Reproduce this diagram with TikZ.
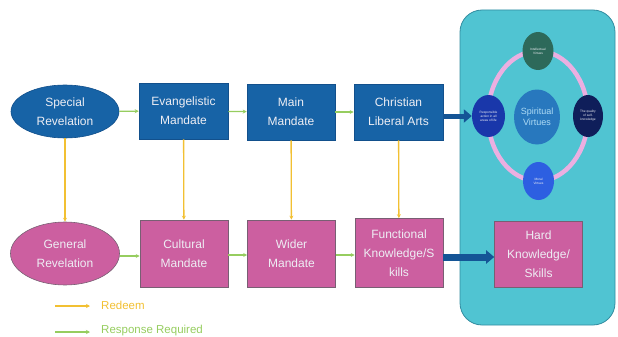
\documentclass[tikz,border=0pt]{standalone}
\usepackage{fontspec}
\setmainfont{Liberation Sans}
\usetikzlibrary{arrows.meta,shapes.geometric}
\definecolor{boxblue}{RGB}{23,99,166}
\definecolor{boxblueb}{RGB}{18,80,140}
\definecolor{boxpink}{RGB}{204,95,160}
\definecolor{boxpinkb}{RGB}{120,95,115}
\definecolor{panelc}{RGB}{80,196,210}
\definecolor{panelb}{RGB}{50,140,160}
\definecolor{ycol}{RGB}{242,192,50}
\definecolor{gcol}{RGB}{150,205,95}
\definecolor{thickb}{RGB}{20,85,150}
\definecolor{txtc}{RGB}{238,238,244}
\definecolor{ringc}{RGB}{235,175,225}
\definecolor{intelc}{RGB}{45,105,90}
\definecolor{respc}{RGB}{25,55,170}
\definecolor{qualc}{RGB}{15,30,90}
\definecolor{moralc}{RGB}{45,95,225}
\definecolor{spiritc}{RGB}{40,120,190}
\definecolor{spirittxt}{RGB}{175,220,245}
\begin{document}
\begin{tikzpicture}[x=1pt,y=-1pt,
  every node/.style={font=\fontsize{12}{19}\selectfont, text=txtc, align=center, inner sep=0pt},
  bluebox/.style={rectangle, draw=boxblueb, fill=boxblue, line width=0.6pt, minimum width=89pt, minimum height=56pt},
  pinkbox/.style={rectangle, draw=boxpinkb, fill=boxpink, line width=0.6pt, minimum width=88pt, minimum height=67pt},
  blueell/.style={ellipse, draw=boxblueb, fill=boxblue, line width=0.6pt, minimum width=108pt, minimum height=53pt},
  pinkell/.style={ellipse, draw=boxpinkb, fill=boxpink, line width=0.6pt, minimum width=109pt, minimum height=63pt},
  smallc/.style={ellipse, minimum width=32pt, minimum height=40pt, font=\fontsize{3.2}{3.9}\selectfont},
  yarrow/.style={draw=ycol, line width=1.3pt, -{Stealth[length=4pt,width=4pt]}},
  garrow/.style={draw=gcol, line width=1.3pt, -{Stealth[length=4pt,width=4pt]}},
  thickarrow/.style={draw=thickb, line width=#1, -{Triangle[length=8pt,width=13pt]}},
  legendtext/.style={anchor=west, font=\fontsize{11.5}{14}\selectfont}
]
\useasboundingbox (0,0) rectangle (618,337);

% right panel
\draw[fill=panelc, draw=panelb, line width=0.8pt, rounded corners=22pt] (460,10) rectangle (615,325);
\draw[ringc, line width=4.5pt] (538,116) ellipse [x radius=50, y radius=65];

% circles
\node[smallc, fill=intelc, minimum width=31pt, minimum height=38pt] (intel) at (538,51) {Intellectual\\Virtues};
\node[smallc, fill=respc, minimum width=33pt, minimum height=42pt] (resp) at (488.5,116) {Responsible\\action in all\\areas of life};
\node[smallc, fill=qualc, minimum width=30pt, minimum height=42pt] (qual) at (588,116) {The quality\\of self-\\knowledge};
\node[smallc, fill=moralc, minimum width=31pt, minimum height=38pt] (moral) at (538.5,181) {Moral\\Virtues};
\node[ellipse, fill=spiritc, minimum width=43pt, minimum height=55pt, text=spirittxt, font=\fontsize{9}{11}\selectfont] (spirit) at (537,117) {Spiritual\\Virtues};

% top row
\node[blueell] (special) at (65,111.5) {Special\\Revelation};
\node[bluebox] (evang) at (183.5,111) {Evangelistic\\Mandate};
\node[bluebox, minimum width=88pt] (main) at (291,112) {Main\\Mandate};
\node[bluebox] (christ) at (398.5,112) {Christian\\Liberal Arts};

% bottom row
\node[pinkell] (general) at (65,253.5) {General\\Revelation};
\node[pinkbox] (cultural) at (184,253.5) {Cultural\\Mandate};
\node[pinkbox] (wider) at (291.5,253.5) {Wider\\Mandate};
\node[pinkbox, minimum height=69pt] (funct) at (399,253) {Functional\\Knowledge/S\\kills};
\node[pinkbox, minimum height=66pt] (hard) at (538.5,254.5) {Hard\\Knowledge/\\Skills};

% green arrows
\draw[garrow] (special) -- (evang);
\draw[garrow] (evang) -- (main);
\draw[garrow] (main) -- (christ);
\draw[garrow] (general.east |- 0,256) -- (cultural.west |- 0,256);
\draw[garrow] (cultural.east |- 0,255) -- (wider.west |- 0,255);
\draw[garrow] (wider.east |- 0,255) -- (funct.west |- 0,255);

% yellow arrows
\draw[yarrow] (special) -- (general);
\draw[yarrow] (evang) -- (cultural);
\draw[yarrow] (main) -- (wider);
\draw[yarrow] (christ) -- (funct);

% thick arrows
\draw[thickarrow=5pt] (christ.east |- resp) -- (resp.west);
\draw[thickarrow=7pt] (funct.east |- 0,257) -- (hard.west |- 0,257);

% legend
\coordinate (ly1) at (55,306);
\coordinate (ly2) at (90,306);
\coordinate (lg1) at (55,332);
\coordinate (lg2) at (90,332);
\draw[yarrow, line width=1.1pt] (ly1) -- (ly2);
\draw[garrow, line width=1.1pt] (lg1) -- (lg2);
\node[legendtext, text=ycol] (lred) at (101,305) {Redeem};
\node[legendtext, text=gcol] (lresp) at (101,331) {Response Required};
\end{tikzpicture}
\end{document}
